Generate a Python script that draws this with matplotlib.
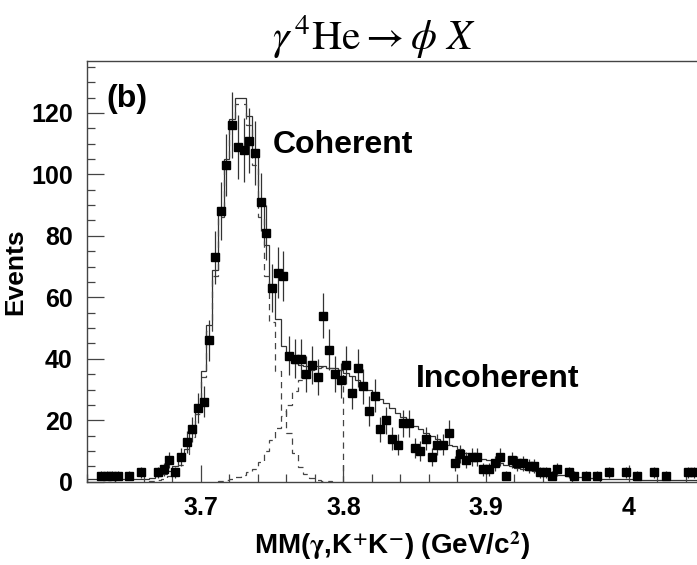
import numpy as np
import matplotlib
matplotlib.use('Agg')
import matplotlib.pyplot as plt
from matplotlib.ticker import MultipleLocator

# histogram binning: 107 bins of 4 MeV starting at 3.62 GeV
x_lo = 3.62
bin_w = 0.004
nan = np.nan

# measured counts per bin (nan = empty bin)
counts = [nan, nan, 2, 2, 2, 2, nan, 2, nan, 3,
          nan, nan, 3, 4, 7, 3, 8, 13, 17, 24,
          26, 46, 73, 88, 103, 116, 109, 108, 111, 107,
          91, 81, 63, 68, 67, 41, 40, 40, 35, 38,
          34, 54, 43, 35, 33, 38, 29, 37, 31, 23,
          28, 17, 20, 14, 12, 19, 19, 11, 10, 14,
          8, 12, 12, 16, 6, 9, 7, 8, 8, 4,
          4, 6, 8, 2, 7, 6, 6, 5, 5, 3,
          3, 2, 4, nan, 3, 2, nan, 2, nan, 2,
          nan, 3, nan, nan, 3, nan, 2, nan, nan, 3,
          nan, 2, nan, nan, nan, 3, 3]

# total fit (solid)
total = [0.8, 0.8, 0.8, 0.8, 0.8, 0.8, 1.0, 1.0, 1.0, 1.0,
         1.0, 1.3, 1.8, 2.5, 3.5, 5, 7, 10.5, 16, 24,
         36, 51, 69, 88, 105, 118, 125, 125, 119, 107,
         92, 77, 64, 53, 44, 40, 38.5, 38, 37.5, 37.5,
         37.5, 37.5, 37, 37, 36.5, 35.5, 34.5, 33, 31.5, 30,
         28.5, 27, 25.5, 24, 22.5, 21, 19.5, 18, 17, 16,
         15, 14, 13, 12, 11.5, 10.5, 9.5, 9, 8.5, 7.5,
         7, 6.5, 6, 5.5, 5, 4.6, 4.2, 3.8, 3.5, 3.2,
         2.9, 2.6, 2.3, 2.1, 1.9, 1.7, 1.5, 1.3, 1.2, 1.1,
         1.0, 0.9, 0.9, 0.8, 0.8, 0.8, 0.7, 0.7, 0.7, 0.6,
         0.6, 0.6, 0.5, 0.5, 0.5, 0.5, 0.5]

# coherent component (dashed), bins 11..42
coh_start = 11
coherent = [0.3, 0.6, 1, 2, 3.5, 5.5, 9, 14.5, 22, 34,
            49, 67, 86, 103, 116, 123, 123, 116, 103, 86,
            67, 52, 36, 23, 15.8, 9.3, 4.9, 2.5, 1.2, 0.5,
            0.2, 0.1]

# incoherent component (dashed), bins 23..44 (follows total afterwards)
inc_start = 23
incoherent = [0.3, 0.6, 1.0, 1.6, 2.3, 3.2, 4.3, 6.5, 10, 13.5,
              17.4, 21.5, 25, 29.5, 33, 35, 36.3, 37, 37.3, 37,
              37, 36.5]

nbins = len(counts)
edges = x_lo + bin_w * np.arange(nbins + 1)
centers = 0.5 * (edges[:-1] + edges[1:])
counts = np.array(counts, dtype=float)

sans = ['Liberation Sans Narrow', 'Liberation Sans', 'DejaVu Sans']
plt.rcParams['mathtext.fontset'] = 'stix'

fig = plt.figure(figsize=(6.97, 5.65), dpi=100)
ax = fig.add_axes([0.1244, 0.1474, 0.8756, 0.7452])

ax.stairs(total, edges, color='#333333', lw=0.9)
ax.stairs(coherent, edges[coh_start:coh_start + len(coherent) + 1],
          color='#444444', lw=0.9, ls=(0, (5, 4)))
ax.stairs(incoherent, edges[inc_start:inc_start + len(incoherent) + 1],
          color='#444444', lw=0.9, ls=(0, (5, 4)))

ok = ~np.isnan(counts)
ax.errorbar(centers[ok], counts[ok], yerr=np.sqrt(counts[ok]), fmt='s',
            color='black', ecolor='#333333', elinewidth=0.9, ms=5.2,
            capsize=0)

ax.set_xlim(x_lo, edges[-1])
ax.set_ylim(0, 137)

ax.xaxis.set_major_locator(MultipleLocator(0.1))
ax.xaxis.set_minor_locator(MultipleLocator(0.02))
ax.yaxis.set_major_locator(MultipleLocator(20))
ax.yaxis.set_minor_locator(MultipleLocator(5))
ax.tick_params(which='both', direction='in', top=False, right=False,
               color='#444444', width=0.9)
ax.tick_params(which='major', length=12, pad=10)
ax.tick_params(which='minor', length=6)
ax.set_xticks([3.7, 3.8, 3.9, 4.0])
ax.set_xticklabels(['3.7', '3.8', '3.9', '4'])

for lab in ax.get_xticklabels() + ax.get_yticklabels():
    lab.set_family(sans)
    lab.set_fontweight('bold')
    lab.set_fontsize(18)

for s in ax.spines.values():
    s.set_color('#444444')
    s.set_linewidth(1.0)
ax.spines['right'].set_visible(False)

ax.set_ylabel('Events', fontsize=19, fontweight='bold', family=sans,
              labelpad=3)
ax.set_xlabel(r'MM($\mathbf{\gamma}$,K$^{\mathbf{+}}$K$^{\mathbf{-}}$) (GeV/c$^{\mathbf{2}}$)',
              fontsize=20, fontweight='bold', family=sans, labelpad=7)

ax.text(0.032, 0.945, '(b)', transform=ax.transAxes, fontsize=23,
        fontweight='bold', family=sans, va='top')
ax.text(0.305, 0.80, 'Coherent', transform=ax.transAxes, fontsize=23,
        fontweight='bold', family=sans, va='center')
ax.text(0.54, 0.245, 'Incoherent', transform=ax.transAxes, fontsize=23,
        fontweight='bold', family=sans, va='center', ha='left')

fig.text(0.537, 0.935, r'$\gamma\,^{4}\mathrm{He} \rightarrow \phi\ X$',
         fontsize=30, ha='center', va='center')

fig.savefig('out.png', dpi=100)
